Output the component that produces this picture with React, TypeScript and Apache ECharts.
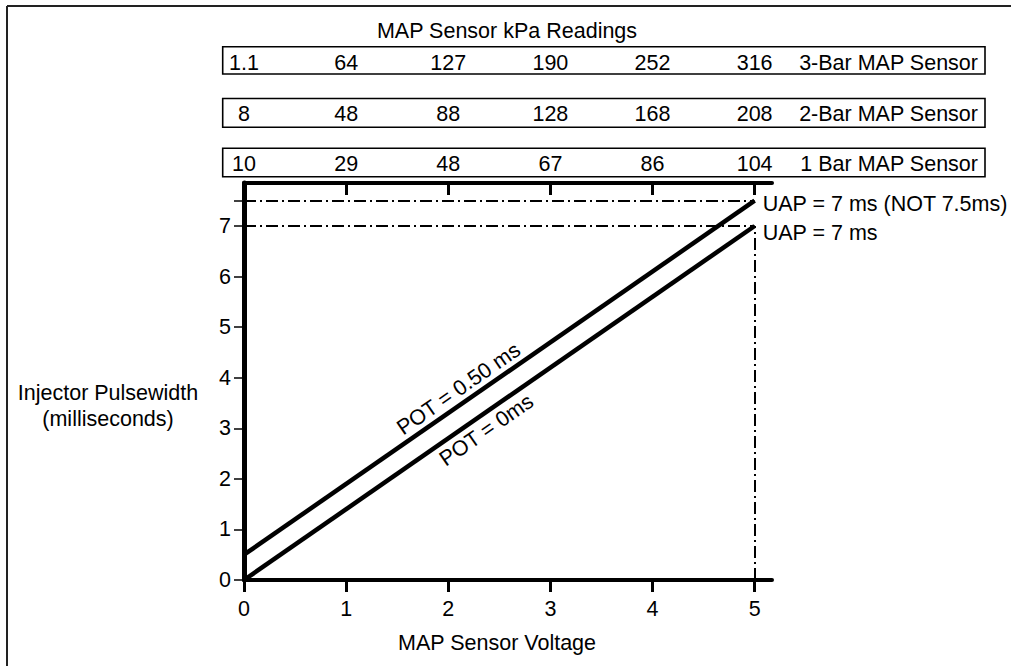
import React, { useEffect, useRef } from "react";
import * as echarts from "echarts";

// ---- data ----
const voltageTicks = [0, 1, 2, 3, 4, 5];
const pulseTicks = [0, 1, 2, 3, 4, 5, 6, 7];
const kpa3Bar = ["1.1", "64", "127", "190", "252", "316"];
const kpa2Bar = ["8", "48", "88", "128", "168", "208"];
const kpa1Bar = ["10", "29", "48", "67", "86", "104"];
const sensorNames = ["3-Bar MAP Sensor", "2-Bar MAP Sensor", "1 Bar MAP Sensor"];
const potZero: number[][] = [[0, 0], [5, 7]];
const potHalf: number[][] = [[0, 0.5], [5, 7.5]];
const potLabels = ["POT = 0.50 ms", "POT = 0ms"];
const uapLevels = [7.5, 7];
const uapLabels = ["UAP = 7 ms (NOT 7.5ms)", "UAP = 7 ms"];
const uapVoltage = 5;
const xName = "MAP Sensor Voltage";
const yName = "Injector Pulsewidth\n(milliseconds)";
const topTitle = "MAP Sensor kPa Readings";

// ---- layout / style ----
const FONT = "'Liberation Sans', Arial, Helvetica, sans-serif";
const FS = 21.5;
const X_MAX = 5.17;
const Y_MAX = 7.85;
const DASHDOT = [12, 4, 2, 4];
const kpaRows = [kpa3Bar, kpa2Bar, kpa1Bar];
const rowOffsets = [120.5, 68.8, 18.8];
const rowBoxes = [
  { y: 46.7, h: 27.3 },
  { y: 98.5, h: 28.8 },
  { y: 148.3, h: 28.4 },
];
const uapLabelShift = [3.5, 7.5];

export default function App() {
  const ref = useRef<HTMLDivElement>(null);

  useEffect(() => {
    if (!ref.current) return;
    const chart = echarts.init(ref.current, undefined, { renderer: "svg" });

    const kpaAxes = kpaRows.map((row, i) => ({
      type: "value",
      position: "top",
      offset: rowOffsets[i],
      min: 0,
      max: X_MAX,
      axisLine: { show: false, onZero: false },
      axisTick: { show: false },
      splitLine: { show: false },
      axisLabel: {
        customValues: voltageTicks,
        formatter: (v: number) => row[voltageTicks.indexOf(v)] ?? "",
        margin: 0,
        verticalAlign: "middle",
        fontSize: FS,
        fontFamily: FONT,
        color: "#000",
      },
    }));

    const option: any = {
      animation: false,
      textStyle: { fontFamily: FONT, color: "#000" },
      grid: { left: 244, right: 239, top: 183, bottom: 86, containLabel: false },
      xAxis: [
        {
          type: "value",
          position: "bottom",
          min: 0,
          max: X_MAX,
          axisLine: { show: true, onZero: false, lineStyle: { color: "#000", width: 4 } },
          axisTick: { show: true, inside: false, length: 12, customValues: voltageTicks, lineStyle: { color: "#000", width: 3 } },
          axisLabel: { customValues: voltageTicks, margin: 18, fontSize: FS, fontFamily: FONT, color: "#000" },
          splitLine: { show: false },
        },
        {
          type: "value",
          position: "top",
          offset: 0,
          min: 0,
          max: X_MAX,
          axisLine: { show: true, onZero: false, lineStyle: { color: "#000", width: 4 } },
          axisTick: { show: true, inside: true, length: 12, customValues: voltageTicks, lineStyle: { color: "#000", width: 3 } },
          axisLabel: { show: false },
          splitLine: { show: false },
        },
        ...kpaAxes,
      ],
      yAxis: [
        {
          type: "value",
          min: 0,
          max: Y_MAX,
          axisLine: { show: true, onZero: false, lineStyle: { color: "#000", width: 5 } },
          axisTick: { show: true, inside: false, length: 10, customValues: [...pulseTicks, uapLevels[0]], lineStyle: { color: "#000", width: 1.5 } },
          axisLabel: { customValues: pulseTicks, margin: 13, fontSize: FS, fontFamily: FONT, color: "#000" },
          splitLine: { show: false },
        },
      ],
      series: [
        {
          type: "line",
          name: potLabels[1],
          data: potZero,
          xAxisIndex: 0,
          yAxisIndex: 0,
          symbol: "none",
          clip: false,
          silent: true,
          lineStyle: { color: "#000", width: 4.5 },
          markLine: {
            silent: true,
            symbol: ["none", "none"],
            label: { show: false },
            lineStyle: { color: "#000", width: 2, type: DASHDOT },
            data: [
              [{ coord: [0, uapLevels[0]] }, { coord: [uapVoltage, uapLevels[0]] }],
              [{ coord: [0, uapLevels[1]] }, { coord: [uapVoltage, uapLevels[1]] }],
              [{ coord: [uapVoltage, 0] }, { coord: [uapVoltage, uapLevels[1]] }],
            ],
          },
        },
        {
          type: "line",
          name: potLabels[0],
          data: potHalf,
          xAxisIndex: 0,
          yAxisIndex: 0,
          symbol: "none",
          clip: false,
          silent: true,
          lineStyle: { color: "#000", width: 4.5 },
        },
      ],
    };

    chart.setOption(option);

    const toPx = (p: number[]) =>
      chart.convertToPixel({ xAxisIndex: 0, yAxisIndex: 0 }, p) as number[];
    const lineAt = (line: number[][], x: number) => {
      const [a, b] = line;
      return [x, a[1] + ((b[1] - a[1]) * (x - a[0])) / (b[0] - a[0])];
    };
    const p0 = toPx(potZero[0]);
    const p1 = toPx(potZero[1]);
    const angle = Math.atan2(p0[1] - p1[1], p1[0] - p0[0]);
    const upperAt = toPx(lineAt(potHalf, 2.18));
    const lowerAt = toPx(lineAt(potZero, 2.29));
    const uapPx = uapLevels.map((lv) => toPx([uapVoltage, lv]));

    const textStyle = { fontSize: FS, fontFamily: FONT, fill: "#000" };

    const graphic: any[] = [
      {
        type: "line",
        shape: { x1: 7, y1: 6, x2: 1011, y2: 6 },
        style: { stroke: "#222", lineWidth: 2 },
        silent: true,
      },
      {
        type: "line",
        shape: { x1: 7, y1: 6, x2: 7, y2: 666 },
        style: { stroke: "#222", lineWidth: 2 },
        silent: true,
      },
      {
        type: "text",
        x: 507,
        y: 30.5,
        style: { ...textStyle, text: topTitle, align: "center", verticalAlign: "middle" },
      },
      ...rowBoxes.map((b) => ({
        type: "rect",
        shape: { x: 222.7, y: b.y, width: 762.3, height: b.h },
        style: { fill: "none", stroke: "#000", lineWidth: 1.6 },
        silent: true,
      })),
      ...sensorNames.map((n, i) => ({
        type: "text",
        x: 978,
        y: 183 - rowOffsets[i],
        style: { ...textStyle, text: n, align: "right", verticalAlign: "middle" },
      })),
      ...uapLabels.map((t, i) => ({
        type: "text",
        x: uapPx[i][0] + 8,
        y: uapPx[i][1] + uapLabelShift[i],
        style: { ...textStyle, text: t, align: "left", verticalAlign: "middle" },
      })),
      {
        type: "text",
        x: 108,
        y: 406,
        style: { ...textStyle, text: yName, align: "center", verticalAlign: "middle", lineHeight: 26 },
      },
      {
        type: "text",
        x: 497,
        y: 643,
        style: { ...textStyle, text: xName, align: "center", verticalAlign: "middle" },
      },
      {
        type: "text",
        x: upperAt[0],
        y: upperAt[1],
        rotation: angle,
        style: { ...textStyle, text: potLabels[0], x: 0, y: -3, align: "center", verticalAlign: "bottom" },
      },
      {
        type: "text",
        x: lowerAt[0],
        y: lowerAt[1],
        rotation: angle,
        style: { ...textStyle, text: potLabels[1], x: 0, y: 4, align: "center", verticalAlign: "top" },
      },
    ];

    chart.setOption({ graphic });

    return () => chart.dispose();
  }, []);

  return (
    <div
      ref={ref}
      style={{ position: "absolute", left: 0, top: 0, width: 1011, height: 666, background: "#fff" }}
    />
  );
}
